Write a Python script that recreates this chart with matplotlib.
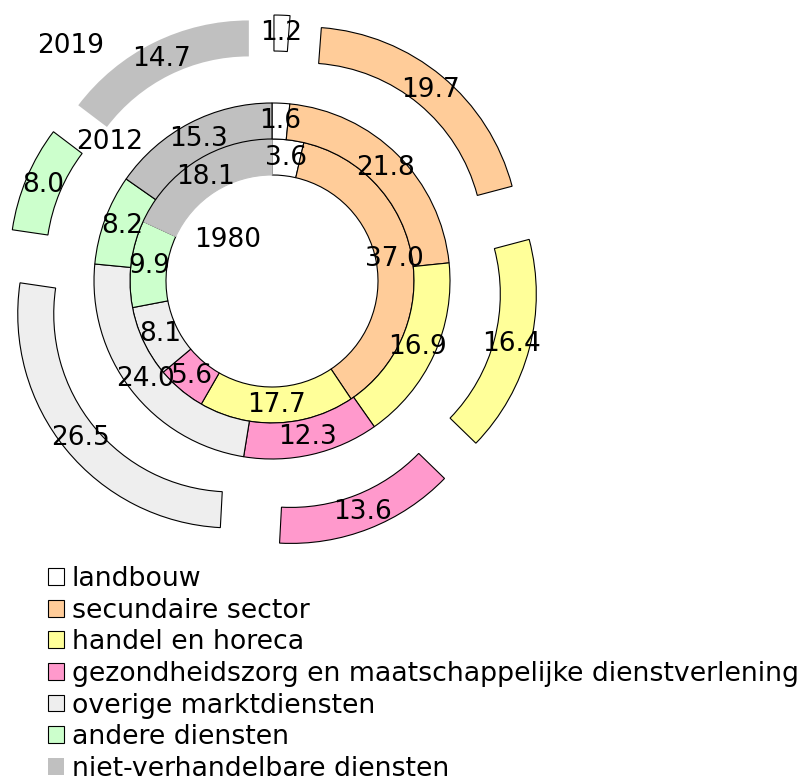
import matplotlib
matplotlib.use("Agg")
import matplotlib.pyplot as plt
from matplotlib.patches import Patch

plt.rcParams['font.family'] = ['DejaVu Sans']

sectors = ['landbouw', 'secundaire sector', 'handel en horeca',
           'gezondheidszorg en maatschappelijke dienstverlening',
           'overige marktdiensten', 'andere diensten',
           'niet-verhandelbare diensten']
colors = ['#ffffff', '#ffcc99', '#ffff99', '#ff99cc', '#eeeeee', '#ccffcc', '#c0c0c0']

years = ['1980', '2012', '2019']
share_1980 = [3.6, 37.0, 17.7, 5.6, 8.1, 9.9, 18.1]
share_2012 = [1.6, 21.8, 16.9, 12.3, 24.0, 8.2, 15.3]
share_2019 = [1.2, 19.7, 16.4, 13.6, 26.5, 8.0, 14.7]

W, H = 810, 781
fig = plt.figure(figsize=(W / 100, H / 100), dpi=100)
ax = fig.add_axes([0, 0, 1, 1])

cx, cy = 272, H - 281
ring = 36
fs = 19

# (values, outer radius, explode in px, edge colour of the grey slice)
rings = [(share_1980, 142, 0, '#c0c0c0'),
         (share_2012, 178, 0, 'black'),
         (share_2019, 214, 52, 'none')]

for vals, r, ex, grey_edge in rings:
    wedges, _, autotexts = ax.pie(
        vals, radius=r, center=(cx, cy), startangle=90, counterclock=False,
        colors=colors, explode=[ex] * len(vals), autopct='%.1f',
        pctdistance=(r - ring / 2) / r, normalize=True, frame=True,
        wedgeprops=dict(width=ring, edgecolor='black', linewidth=0.8),
        textprops=dict(fontsize=fs, color='black'))
    wedges[-1].set_edgecolor(grey_edge)
    for t, v in zip(autotexts, vals):
        t.set_text(f'{v:.1f}')

# year labels
ax.text(228, H - 240, years[0], fontsize=fs, ha='center', va='center')
ax.text(110, H - 142, years[1], fontsize=fs, ha='center', va='center')
ax.text(71, H - 46, years[2], fontsize=fs, ha='center', va='center')

ax.set_xlim(0, W)
ax.set_ylim(0, H)
ax.set_aspect('auto')
ax.axis('off')

handles = []
for c in colors:
    ec = 'none' if c == '#c0c0c0' else 'black'
    handles.append(Patch(facecolor=c, edgecolor=ec, linewidth=0.8))
fig.legend(handles, sectors, loc='upper left', bbox_to_anchor=(48 / W, 1 - 566 / H),
           frameon=False, fontsize=19.3, handlelength=0.58, handleheight=0.58,
           handletextpad=0.3, labelspacing=0.21, borderpad=0, borderaxespad=0)

fig.savefig('out.png', dpi=100)
